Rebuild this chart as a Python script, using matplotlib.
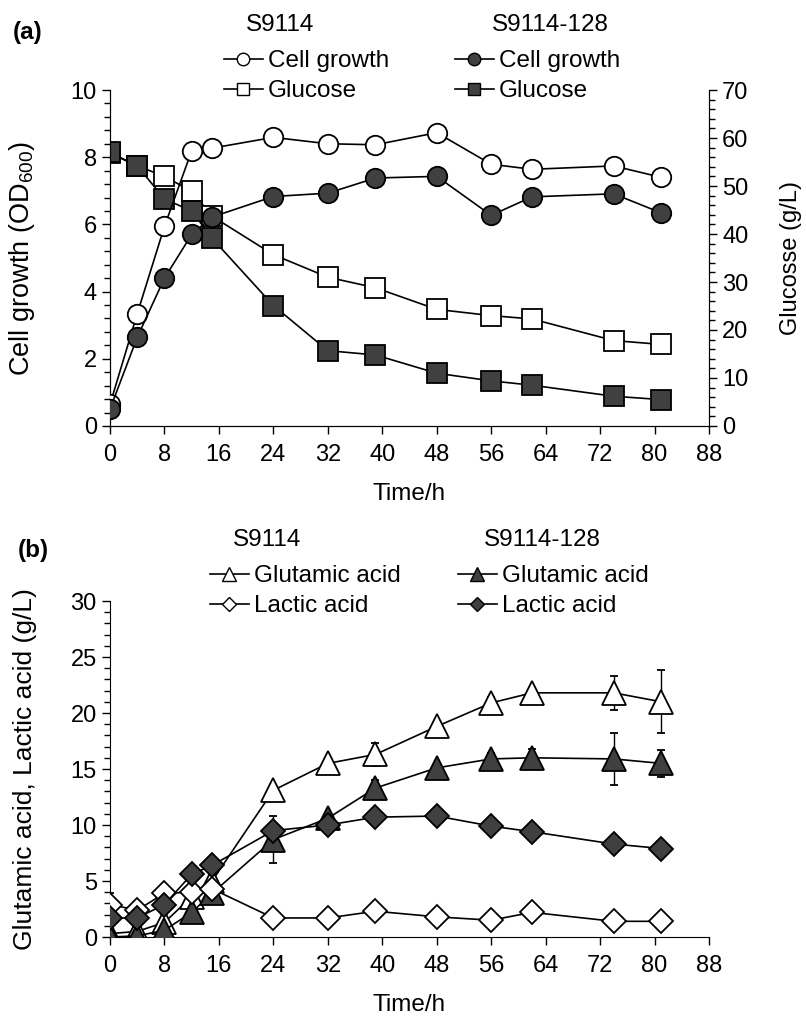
import matplotlib
matplotlib.use("Agg")
import matplotlib.pyplot as plt
import matplotlib.ticker as mticker
from matplotlib.lines import Line2D

plt.rcParams["font.family"] = ["Liberation Sans", "DejaVu Sans"]
plt.rcParams["mathtext.fontset"] = "custom"
plt.rcParams["mathtext.rm"] = "Liberation Sans"
plt.rcParams["font.size"] = 17

DARK = "#404040"
TXT = 17.5   # legend / header / axis-title size

# ---- panel (a) data ----
time_a = [0, 4, 8, 12, 15, 24, 32, 39, 48, 56, 62, 74, 81]
od_wt = [0.64, 3.34, 5.94, 8.19, 8.27, 8.59, 8.40, 8.37, 8.73, 7.79, 7.64, 7.74, 7.40]
od_wt_err = [0.10, 0.15, 0.20, 0.05, 0.10, 0.12, 0.08, 0.15, 0.15, 0.10, 0.05, 0.15, 0.10]
od_mut = [0.50, 2.64, 4.40, 5.70, 6.22, 6.83, 6.93, 7.38, 7.43, 6.27, 6.82, 6.91, 6.34]
od_mut_err = [0.10, 0.15, 0.10, 0.15, 0.10, 0.10, 0.10, 0.15, 0.20, 0.05, 0.05, 0.05, 0.05]
glc_wt = [56.8, 54.2, 52.0, 48.9, 43.7, 35.7, 31.0, 28.8, 24.3, 23.0, 22.3, 17.8, 17.0]
glc_wt_err = [0.5, 0.5, 1.6, 0.8, 0.5, 0.3, 0.3, 1.9, 0.2, 0.3, 0.3, 1.6, 1.4]
glc_mut = [57.0, 54.2, 47.3, 44.8, 39.1, 25.1, 15.7, 14.8, 11.0, 9.4, 8.5, 6.2, 5.5]
glc_mut_err = [0.5, 0.8, 0.6, 0.6, 0.6, 0.8, 0.8, 0.6, 0.2, 1.6, 1.7, 1.7, 0.6]

# ---- panel (b) data ----
time_b = [0, 4, 8, 12, 15, 24, 32, 39, 48, 56, 62, 74, 81]
glu_wt = [0.3, 0.5, 1.3, 3.6, 5.0, 13.1, 15.5, 16.3, 18.8, 20.9, 21.8, 21.8, 21.0]
glu_wt_err = [0.3, 0.3, 0.5, 0.5, 0.8, 0.5, 0.5, 1.0, 0.5, 0.5, 0.2, 1.5, 2.8]
glu_mut = [0.0, 0.1, 0.6, 2.2, 3.9, 8.7, 10.6, 13.3, 15.1, 15.9, 16.0, 15.9, 15.5]
glu_mut_err = [0.3, 0.3, 0.5, 0.5, 0.5, 2.1, 0.5, 0.7, 0.3, 0.5, 0.8, 2.3, 1.2]
lac_wt = [2.9, 2.4, 3.9, 4.0, 4.3, 1.7, 1.7, 2.3, 1.8, 1.5, 2.2, 1.4, 1.4]
lac_wt_err = [1.0, 0.4, 0.5, 0.5, 0.5, 0.5, 0.5, 0.3, 0.6, 0.2, 0.2, 0.1, 0.1]
lac_mut = [1.7, 1.7, 2.9, 5.6, 6.4, 9.5, 10.0, 10.7, 10.8, 9.9, 9.4, 8.3, 7.9]
lac_mut_err = [0.3, 0.3, 0.3, 0.3, 0.3, 0.3, 0.3, 0.2, 0.2, 0.2, 0.2, 0.2, 0.2]

x_ticks = list(range(0, 89, 8))


def _series(ax, x, y, err, marker, face, ms, z):
    ax.errorbar(x, y, yerr=err, color="black", lw=1.2, marker=marker, ms=ms,
                mfc=face, mec="black", mew=1.3, ecolor="black", elinewidth=1.0,
                capsize=3, capthick=1.0, zorder=z)


def _style_x(ax):
    ax.set_xlim(0, 88)
    ax.set_xticks(x_ticks)
    ax.tick_params(axis="x", direction="out", length=6, width=1, pad=7, labelsize=17)
    ax.set_xlabel("Time/h", fontsize=TXT, labelpad=12)


def _leg(fig, handles, labels, x, y):
    fig.legend(handles, labels, loc="upper left", bbox_to_anchor=(x, y),
               frameon=False, handlelength=1.6, handletextpad=0.2,
               labelspacing=0.33, borderpad=0, borderaxespad=0, fontsize=TXT)


fig = plt.figure(figsize=(8.06, 10.21), dpi=100)
W, H = 806, 1021


def rect(l, t, r, b):
    return [l / W, 1 - b / H, (r - l) / W, (b - t) / H]


# ---------------- panel (a) ----------------
ax_g = fig.add_axes(rect(110, 90, 709, 426))
ax_c = ax_g.twinx()

_series(ax_g, time_a, glc_wt, glc_wt_err, "s", "white", 15, 2)
_series(ax_g, time_a, glc_mut, glc_mut_err, "s", DARK, 15, 3)
_series(ax_c, time_a, od_wt, od_wt_err, "o", "white", 14, 4)
_series(ax_c, time_a, od_mut, od_mut_err, "o", DARK, 14, 5)

ax_g.set_ylim(0, 70)
ax_g.yaxis.set_major_locator(mticker.MultipleLocator(10))
ax_g.yaxis.set_minor_locator(mticker.MultipleLocator(2))
ax_g.yaxis.tick_right()
ax_g.yaxis.set_label_position("right")
ax_g.set_ylabel("Glucosse (g/L)", fontsize=17)
ax_g.yaxis.set_label_coords(1.1185, 0.5)

ax_c.set_ylim(0, 10)
ax_c.yaxis.set_major_locator(mticker.MultipleLocator(2))
ax_c.yaxis.set_minor_locator(mticker.MultipleLocator(0.4))
ax_c.yaxis.tick_left()
ax_c.yaxis.set_label_position("left")
ax_c.set_ylabel("Cell growth (OD$_{600}$)", fontsize=19.5)
ax_c.yaxis.set_label_coords(-0.122, 0.5)

for a in (ax_g, ax_c):
    a.spines["top"].set_visible(False)
    a.tick_params(axis="y", which="major", length=6, width=1, labelsize=17)
    a.tick_params(axis="y", which="minor", length=4, width=1)
_style_x(ax_g)

fig.text(28 / W, 1 - 33 / H, "(a)", fontsize=TXT, fontweight="bold", ha="center", va="center")
fig.text(280 / W, 1 - 25 / H, "S9114", fontsize=TXT, ha="center", va="center")
fig.text(550 / W, 1 - 25 / H, "S9114-128", fontsize=TXT, ha="center", va="center")

h_cw = Line2D([], [], color="black", lw=1.2, marker="o", ms=9, mfc="white", mec="black")
h_gw = Line2D([], [], color="black", lw=1.2, marker="s", ms=9, mfc="white", mec="black")
h_cm = Line2D([], [], color="black", lw=1.2, marker="o", ms=9, mfc=DARK, mec="black")
h_gm = Line2D([], [], color="black", lw=1.2, marker="s", ms=9, mfc=DARK, mec="black")
_leg(fig, [h_cw, h_gw], ["Cell growth", "Glucose"], 224 / W, 1 - 50 / H)
_leg(fig, [h_cm, h_gm], ["Cell growth", "Glucose"], 455 / W, 1 - 50 / H)

# ---------------- panel (b) ----------------
ax_b = fig.add_axes(rect(110, 601, 709, 937))
_series(ax_b, time_b, glu_wt, glu_wt_err, "^", "white", 17, 2)
_series(ax_b, time_b, glu_mut, glu_mut_err, "^", DARK, 17, 3)
_series(ax_b, time_b, lac_wt, lac_wt_err, "D", "white", 12, 4)
_series(ax_b, time_b, lac_mut, lac_mut_err, "D", DARK, 12, 5)

ax_b.set_ylim(0, 30)
ax_b.yaxis.set_major_locator(mticker.MultipleLocator(5))
ax_b.yaxis.set_minor_locator(mticker.MultipleLocator(1))
ax_b.tick_params(axis="y", which="major", length=6, width=1, labelsize=17)
ax_b.tick_params(axis="y", which="minor", length=4, width=1)
ax_b.spines["top"].set_visible(False)
ax_b.spines["right"].set_visible(False)
ax_b.set_ylabel("Glutamic acid, Lactic acid (g/L)", fontsize=19)
ax_b.yaxis.set_label_coords(-0.122, 0.5)
_style_x(ax_b)

fig.text(33 / W, 1 - 550 / H, "(b)", fontsize=TXT, fontweight="bold", ha="center", va="center")
fig.text(267 / W, 1 - 540 / H, "S9114", fontsize=TXT, ha="center", va="center")
fig.text(542 / W, 1 - 540 / H, "S9114-128", fontsize=TXT, ha="center", va="center")

h_tw = Line2D([], [], color="black", lw=1.2, marker="^", ms=10, mfc="white", mec="black")
h_dw = Line2D([], [], color="black", lw=1.2, marker="D", ms=7, mfc="white", mec="black")
h_tm = Line2D([], [], color="black", lw=1.2, marker="^", ms=10, mfc=DARK, mec="black")
h_dm = Line2D([], [], color="black", lw=1.2, marker="D", ms=7, mfc=DARK, mec="black")
_leg(fig, [h_tw, h_dw], ["Glutamic acid", "Lactic acid"], 210 / W, 1 - 565 / H)
_leg(fig, [h_tm, h_dm], ["Glutamic acid", "Lactic acid"], 458 / W, 1 - 565 / H)

fig.savefig("out.png", dpi=100, facecolor="white")
